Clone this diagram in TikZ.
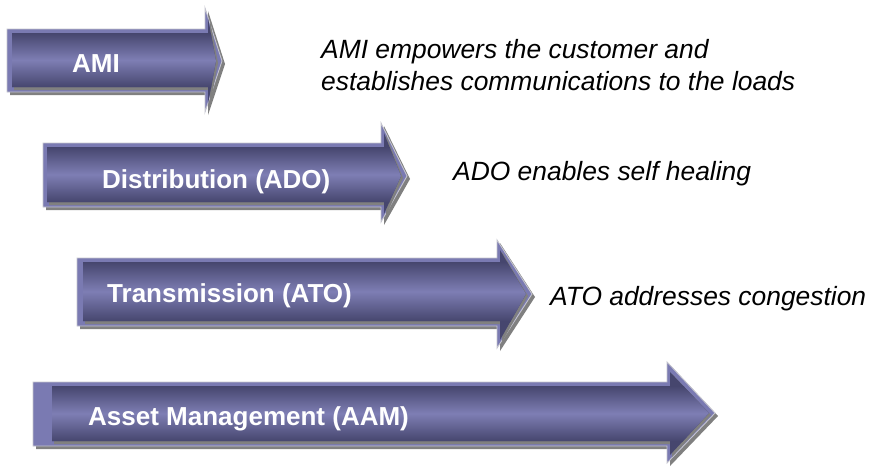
\documentclass[tikz,border=0pt]{standalone}
\usepackage{fontspec}
\setmainfont{Liberation Sans}
\definecolor{outc}{RGB}{122,122,178}
\definecolor{darkc}{RGB}{70,70,110}
\definecolor{lightc}{RGB}{126,126,180}
\definecolor{edgec}{RGB}{196,196,206}
\definecolor{shc}{RGB}{128,128,128}
\tikzset{
  lbl/.style={anchor=base west, inner sep=0pt, text=white, font=\fontsize{26}{30}\selectfont\bfseries},
  desc/.style={anchor=base west, inner sep=0pt, text=black, font=\fontsize{26.4}{32}\selectfont\itshape},
}
% #1 left, #2 top, #3 bottom, #4 head base x, #5 head top, #6 head bottom, #7 tip x, #8 tip y, #9 inner left inset
\newcommand{\bigarrow}[9]{%
  \fill[shc] ({#1+3},{#2+3}) -- ({#4+3},{#2+3}) -- ({#4+3},{#5+3}) -- ({#7+3},{#8+3}) -- ({#4+3},{#6+3}) -- ({#4+3},{#3+3}) -- ({#1+3},{#3+3}) -- cycle;
  \filldraw[fill=outc, draw=edgec, line width=0.9pt] (#1,#2) -- (#4,#2) -- (#4,#5) -- (#7,#8) -- (#4,#6) -- (#4,#3) -- (#1,#3) -- cycle;
  \fill[shc] ({#1+#9+2},{#2+6}) -- ({#4+5},{#2+6}) -- ({#4+5},{#5+12}) -- ({#7-4},{#8+2}) -- ({#4+5},{#6-6}) -- ({#4+5},{#3-2}) -- ({#1+#9+2},{#3-2}) -- cycle;
  \begin{scope}
    \clip ({#1+#9},{#2+4}) -- ({#4+3},{#2+4}) -- ({#4+3},{#5+10}) -- ({#7-6},{#8}) -- ({#4+3},{#6-8}) -- ({#4+3},{#3-5}) -- ({#1+#9},{#3-5}) -- cycle;
    \fill[darkc] (#1,#5) rectangle (#7,#6);
    \shade[top color=darkc, bottom color=darkc, middle color=lightc] (#1,{#2+4}) rectangle (#7,{#3-5});
  \end{scope}
}
\begin{document}
\begin{tikzpicture}[x=1pt,y=-1pt]
\useasboundingbox (0,0) rectangle (872,467);
\fill[white] (0,0) rectangle (872,467);

\bigarrow{7}{29}{92}{205}{8}{112}{222}{61}{5}
\bigarrow{43}{143}{207}{381}{123}{222}{407}{176}{4}
\bigarrow{77}{258}{326}{497}{240}{348}{532}{294}{6}
\bigarrow{33}{382}{446}{667}{362}{463}{715}{413}{19}

\node[lbl] (ami) at (72,72) {AMI};
\node[lbl] (ado) at (102,188) {Distribution (ADO)};
\node[lbl] (ato) at (107,302) {Transmission (ATO)};
\node[lbl] (aam) at (88,425) {Asset Management (AAM)};

\node[desc] (d1a) at (321,58) {AMI empowers the customer and};
\node[desc] (d1b) at (321,90) {establishes communications to the loads};
\node[desc] (d2) at (453,180) {ADO enables self healing};
\node[desc] (d3) at (550,305) {ATO addresses congestion};
\end{tikzpicture}
\end{document}
